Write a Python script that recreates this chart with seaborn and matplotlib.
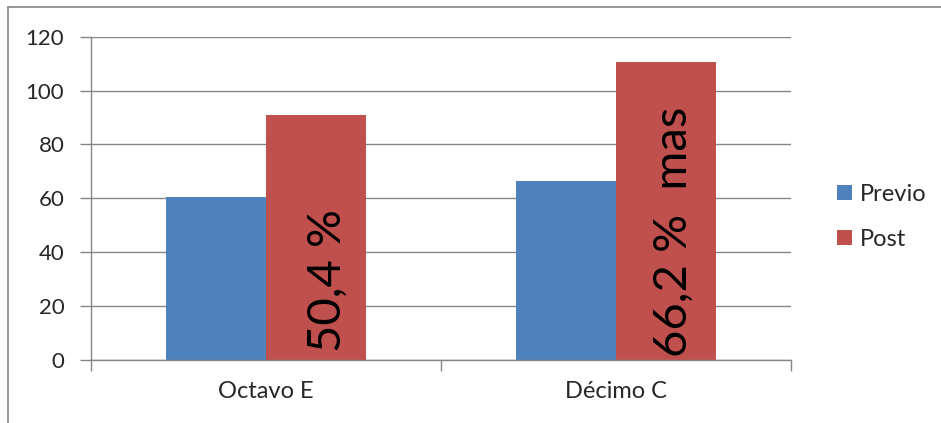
import matplotlib
matplotlib.use("Agg")
import matplotlib.pyplot as plt
from matplotlib.lines import Line2D
from matplotlib.patches import Patch
import seaborn as sns
import pandas as pd

categories = ["Octavo E", "Décimo C"]
series = ["Previo", "Post"]
previo = [60.5, 66.4]
post = [91.1, 110.6]
annotations = ["50,4 %", "66,2 %  mas"]
yticks = [0, 20, 40, 60, 80, 100, 120]
colors = ["#4F81BD", "#C0504D"]

sns.set_style("white")
plt.rcParams["font.family"] = ["Lato", "DejaVu Sans"]

df = pd.DataFrame({
    "cat": categories * 2,
    "serie": [series[0]] * 2 + [series[1]] * 2,
    "val": previo + post,
})

fig = plt.figure(figsize=(9.41, 4.23), dpi=100)
ax = fig.add_axes([0.0964, 0.149, 0.8406 - 0.0964, 0.9132 - 0.149])
sns.barplot(data=df, x="cat", y="val", hue="serie", palette=colors,
            width=0.571, gap=0, ax=ax, legend=False, saturation=1,
            linewidth=0, errorbar=None)

ax.set_xlim(-0.5, 1.5)
ax.set_ylim(0, 120)
ax.set_yticks(yticks)
ax.set_yticklabels([str(t) for t in yticks], fontsize=16)
ax.set_xticks([0, 1])
ax.set_xticklabels(categories, fontsize=17)
ax.set_xticks([-0.5, 0.5, 1.5], minor=True)
ax.tick_params(axis="x", which="major", length=0, pad=15)
ax.tick_params(axis="x", which="minor", length=8, width=1, color="#868686", direction="out", bottom=True)
ax.tick_params(axis="y", which="major", length=8, width=1, color="#868686", direction="out", left=True, pad=11)
ax.set_xlabel("")
ax.set_ylabel("")
ax.yaxis.grid(True, color="#868686", linewidth=1)
ax.set_axisbelow(True)
for s in ["top", "right"]:
    ax.spines[s].set_visible(False)
for s in ["left", "bottom"]:
    ax.spines[s].set_color("#868686")
    ax.spines[s].set_linewidth(1)

# rotated annotations inside the Post bars
offsets = [0.035, 0.022]
bases = [3, 1]
for i, txt in enumerate(annotations):
    ax.text(i + 0.143 + offsets[i], bases[i], txt, rotation=90, ha="center", va="bottom",
            fontsize=34, color="black")

handles = [Patch(facecolor=c, edgecolor="none") for c in colors]
fig.legend(handles, series, loc="center left", bbox_to_anchor=(0.867, 0.487),
           frameon=False, fontsize=17, handlelength=0.62, handleheight=0.62,
           handletextpad=0.35, labelspacing=1.03)

# outer chart frame (top and left edges visible)
fig.add_artist(Line2D([8 / 941, 8 / 941], [0, 1 - 7 / 423], transform=fig.transFigure,
                      color="#868686", linewidth=1.2))
fig.add_artist(Line2D([8 / 941, 1], [1 - 7 / 423, 1 - 7 / 423], transform=fig.transFigure,
                      color="#868686", linewidth=1.2))

fig.savefig("out.png", dpi=100)
